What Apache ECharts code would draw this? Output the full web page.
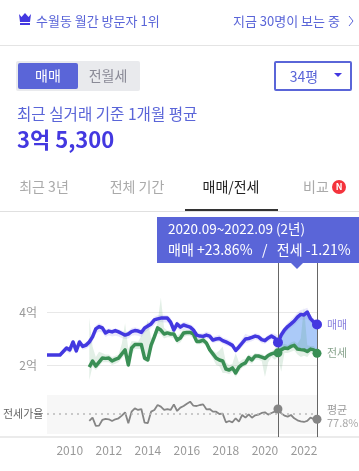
<!DOCTYPE html>
<html><head><meta charset="utf-8">
<style>html,body{margin:0;padding:0;background:#fff}#c{width:359px;height:471px}</style>
<script src="https://cdn.jsdelivr.net/npm/echarts@6/dist/echarts.min.js"></script>
</head><body><div id="c"></div>
<script>
const months = [];
for (let y = 2008, m = 11; y < 2022 || m <= 9; ) { months.push(y + '.' + String(m).padStart(2, '0')); m += 2; if (m > 12) { m -= 12; y++; } }
const N = null;
const sale = [2.38,2.38,2.38,2.38,2.38,2.51,2.64,2.57,2.87,2.53,2.87,2.70,2.75,2.87,3.06,3.36,3.45,3.40,3.21,3.28,3.25,3.30,3.25,3.19,3.13,3.17,3.26,3.30,3.28,3.23,3.40,3.47,3.55,3.70,3.74,3.77,3.77,3.77,3.62,3.32,3.55,3.43,3.51,3.47,3.43,3.32,3.13,3.09,3.08,3.13,3.09,2.94,2.98,3.00,2.92,2.87,2.81,2.74,2.55,2.68,2.83,2.98,3.00,3.04,3.09,3.06,2.96,2.92,3.02,3.09,3.02,2.85,3.13,3.32,3.45,3.55,3.66,3.81,3.91,3.89,4.00,3.75,3.62,3.53];
const saleHigh = [2.38,2.38,2.38,2.38,2.38,2.58,2.72,2.68,2.95,2.72,2.98,2.82,2.86,3.0,3.2,3.5,3.58,3.52,3.36,3.38,3.36,3.38,3.35,3.3,3.25,3.28,3.4,3.42,3.4,3.36,3.5,3.6,3.68,3.82,3.88,3.9,3.9,3.88,3.78,3.5,3.66,3.56,3.62,3.6,3.54,3.46,3.25,3.2,3.2,3.26,3.22,3.08,3.1,3.14,3.04,3.0,2.94,2.86,2.68,2.82,3.0,3.18,3.12,3.14,3.2,3.18,3.08,3.02,3.14,3.2,3.18,3.1,3.28,3.45,3.6,3.72,3.84,3.98,4.08,4.1,4.16,3.9,3.76,3.6];
const saleLow = [2.38,2.38,2.38,2.38,2.38,2.42,2.5,2.42,2.62,2.42,2.72,2.58,2.6,2.7,2.88,3.18,3.26,3.22,3.06,3.12,3.08,3.1,3.08,3.02,2.98,3.0,3.1,3.12,3.1,3.06,3.22,3.3,3.4,3.5,3.6,3.62,3.6,3.6,3.44,3.16,3.38,3.28,3.34,3.3,3.28,3.2,3.0,2.96,2.96,3.0,2.96,2.82,2.86,2.88,2.8,2.74,2.7,2.64,2.46,2.56,2.68,2.82,2.86,2.9,2.96,2.92,2.82,2.8,2.88,2.96,2.88,2.62,2.98,3.16,3.3,3.4,3.5,3.62,3.72,3.7,3.75,3.6,3.48,3.45];
const rent = [N,N,N,N,N,N,N,N,N,N,N,N,N,1.92,2.15,1.96,2.11,2.26,2.25,2.26,2.15,2.21,2.26,2.42,2.57,2.0,2.64,2.77,2.77,2.77,2.26,2.19,2.75,3.06,3.40,3.32,3.17,3.21,3.17,3.17,2.94,3.02,3.21,3.23,3.23,3.17,2.89,2.89,2.94,2.83,2.58,2.42,2.26,2.19,2.15,1.85,1.81,1.89,1.70,1.92,2.02,2.08,2.28,2.19,2.34,2.34,2.30,2.25,2.36,2.42,2.46,2.46,2.57,2.64,2.62,2.70,2.74,2.60,2.58,2.57,2.51,2.60,2.57,2.44];
const rentHigh = [N,N,N,N,N,N,N,N,N,N,N,N,N,3.77,2.7,2.3,2.5,2.45,2.4,2.4,2.3,2.35,2.4,2.8,3.58,2.6,2.9,2.9,2.88,3.1,3.3,3.7,3.0,3.2,3.6,4.55,3.4,3.3,3.3,3.35,3.1,3.2,3.35,3.3,3.3,3.25,3.0,3.0,3.05,2.95,2.7,2.55,2.45,2.55,2.7,2.1,2.0,2.05,2.45,2.1,2.2,2.25,2.4,2.35,2.45,2.42,2.42,2.35,2.45,2.52,2.6,2.9,2.75,2.8,2.75,2.85,2.9,2.8,3.0,4.19,2.75,2.72,2.72,2.55];
const rentLow = [N,N,N,N,N,N,N,N,N,N,N,N,N,1.43,1.95,1.8,1.95,2.1,2.1,2.1,2.0,2.05,2.1,2.25,2.4,1.9,2.4,2.6,2.6,2.6,2.15,2.1,2.55,2.85,3.2,3.15,3.0,3.05,3.05,3.0,2.8,2.85,3.05,3.1,3.1,3.0,2.78,2.78,2.8,2.72,2.45,2.25,2.0,1.95,1.7,1.7,1.65,1.75,1.55,1.75,1.9,1.95,2.1,2.05,2.2,2.2,2.15,1.55,2.1,2.3,2.2,2.3,1.75,2.45,2.45,2.5,2.55,2.4,2.3,2.35,2.3,2.45,2.4,2.3];
const ratio = [N,N,N,N,N,N,N,N,N,N,N,N,N,66.7,72.0,58.8,59.3,68.3,69.9,69.4,66.7,69.4,71.0,75.2,80.5,63.0,81.5,86.8,84.2,85.7,64.0,63.5,81.5,84.2,92.1,89.5,84.2,85.7,84.2,93.1,82.6,87.9,90.5,94.2,97.4,91.0,90.5,92.1,93.1,85.2,85.7,81.5,81.5,77.8,78.3,64.6,66.7,64.6,71.0,65.6,76.2,72.0,77.3,72.0,75.7,76.8,79.4,80.5,76.8,79.4,81.5,85.7,78.9,75.2,73.6,76.2,71.0,67.8,66.2,65.1,66.7,72.0,69.9,69.4];
const ratioAverage = 77.8;
const rangeStart = '2020.09', rangeEnd = '2022.09';
const priceTicks = [2, 4];

const FONT = '"Noto Sans CJK KR","Noto Sans",sans-serif';
const PURPLE = '#5a65d8', BLUE = '#4338e0', GREEN = '#3a8f55', GREY = '#858585';
const iStart = months.indexOf(rangeStart), iEnd = months.indexOf(rangeEnd);

function bandPolygon(upper, lower, fill, from, to) {
  return function (params, api) {
    const pts = [], back = [];
    for (let i = from; i <= to; i++) {
      if (upper[i] == null || lower[i] == null) continue;
      pts.push(api.coord([i, upper[i]]));
      back.unshift(api.coord([i, lower[i]]));
    }
    return { type: 'polygon', shape: { points: pts.concat(back) }, style: { fill: fill }, silent: true };
  };
}
function txt(text, x, y, size, fill, extra) {
  return { type: 'text', z: 100, style: { text, x, y, fill, font: (extra && extra.weight || 'normal') + ' ' + size + 'px ' + FONT, verticalAlign: 'middle', align: extra && extra.align || 'left' } };
}
const graphics = [
  { type: 'rect', shape: { x: 0, y: 45, width: 359, height: 1 }, style: { fill: '#e4e4e4' } },
  { type: 'polygon', shape: { points: [[19,14],[21.5,17],[25,13],[28.5,17],[31,14],[30,22],[20,22]] }, style: { fill: BLUE } },
  { type: 'rect', shape: { x: 20, y: 23, width: 10, height: 2 }, style: { fill: BLUE } },
  txt('수월동 월간 방문자 1위', 36, 21, 13, PURPLE),
  txt('지금 30명이 보는 중', 233, 21, 13, PURPLE),
  { type: 'polyline', shape: { points: [[349,16],[353,21],[349,26]] }, style: { stroke: PURPLE, fill: null, lineWidth: 1 } },
  { type: 'rect', shape: { x: 16, y: 61, width: 124, height: 30, r: 2 }, style: { fill: '#e9eaed' } },
  { type: 'rect', shape: { x: 18, y: 63, width: 60, height: 26, r: 2 }, style: { fill: PURPLE } },
  txt('매매', 48, 76, 14, '#fff', { align: 'center' }),
  txt('전월세', 108, 76, 14, '#8a8a96', { align: 'center' }),
  { type: 'rect', shape: { x: 275, y: 62, width: 76, height: 28, r: 1 }, style: { fill: '#fff', stroke: PURPLE, lineWidth: 2 } },
  txt('34평', 304, 77, 14, PURPLE, { align: 'center' }),
  { type: 'polygon', shape: { points: [[334,73],[342,73],[338,77]] }, style: { fill: BLUE } },
  txt('최근 실거래 기준 1개월 평균', 17, 114, 15.6, PURPLE),
  txt('3억 5,300', 17, 140, 22, BLUE, { weight: 'bold' }),
  txt('최근 3년', 44, 187, 14, '#aaaaaa', { align: 'center' }),
  txt('전체 기간', 137, 187, 14, '#aaaaaa', { align: 'center' }),
  txt('매매/전세', 231, 187, 14, '#222222', { align: 'center' }),
  txt('비교', 316, 187, 14, '#aaaaaa', { align: 'center' }),
  { type: 'circle', z: 99, shape: { cx: 339, cy: 187, r: 7 }, style: { fill: '#f4333c' } },
  txt('N', 339, 187, 9, '#fff', { align: 'center', weight: 'bold' }),
  { type: 'rect', shape: { x: 0, y: 211, width: 359, height: 1 }, style: { fill: '#e0e0e0' } },
  { type: 'rect', z: 100, shape: { x: 185, y: 209, width: 93, height: 2 }, style: { fill: '#333' } },
  { type: 'rect', z: 98, shape: { x: 157, y: 217, width: 202, height: 46 }, style: { fill: PURPLE } },
  { type: 'polygon', z: 98, shape: { points: [[291,263],[303,263],[297,269]] }, style: { fill: PURPLE } },
  txt('2020.09~2022.09 (2년)', 168, 229, 13.5, '#fff'),
  txt('매매 +23.86%   /   전세 -1.21%', 168, 250, 14, '#fff'),
  txt('매매', 327, 325, 11, '#8c84e0'),
  txt('전세', 327, 353, 11, '#8aa58f'),
  txt('평균', 327, 410, 11, '#999'),
  txt('77.8%', 327, 423, 11, '#aaa'),
  txt('전세가율', 3, 414, 11, '#666'),
  { type: 'rect', shape: { x: 0, y: 436, width: 359, height: 2 }, style: { fill: '#ebebeb' } }
];
const ends = (arr) => [[iStart, arr[iStart]], [iEnd, arr[iEnd]]];
const option = {
  animation: false,
  textStyle: { fontFamily: FONT },
  graphic: { elements: graphics },
  grid: [
    { left: 47, width: 270, top: 259, height: 159, show: false },
    { left: 47, width: 270, top: 395, height: 39, show: true, backgroundColor: '#f7f7f7', borderWidth: 0 },
    { left: 47, width: 270, top: 262, height: 175, show: false }
  ],
  xAxis: [
    { gridIndex: 0, type: 'category', data: months, boundaryGap: false, axisLine: { show: false }, axisTick: { show: false }, axisLabel: { show: false } },
    { gridIndex: 1, type: 'category', data: months, boundaryGap: false, axisLine: { show: false }, axisTick: { show: false },
      axisLabel: { margin: 10, color: '#999', fontSize: 12, fontFamily: FONT, interval: (i, v) => /^20(10|12|14|16|18|20|22)\.01$/.test(v), formatter: v => v.slice(0, 4) } },
    { gridIndex: 2, type: 'category', data: months, boundaryGap: false, show: false }
  ],
  yAxis: [
    { gridIndex: 0, type: 'value', min: 0, max: 6, interval: 2, axisLine: { show: false }, axisTick: { show: false },
      splitLine: { show: true, showMinLine: false, showMaxLine: false, lineStyle: { color: '#e8e8e8', width: 1 } },
      axisLabel: { margin: 10, color: '#999', fontSize: 12, fontFamily: FONT, showMinLabel: false, showMaxLabel: false, formatter: v => priceTicks.includes(v) ? v + '억' : '' } },
    { gridIndex: 1, type: 'value', min: 46, max: 108, show: false, splitLine: { show: false } },
    { gridIndex: 2, type: 'value', min: 0, max: 1, show: false, splitLine: { show: false } }
  ],
  series: [
    { type: 'custom', xAxisIndex: 0, yAxisIndex: 0, data: [0], z: 1, silent: true, renderItem: bandPolygon(sale, rent, '#abcaf8', iStart, iEnd) },
    { type: 'custom', xAxisIndex: 0, yAxisIndex: 0, data: [0], z: 1, silent: true, renderItem: bandPolygon(saleHigh, saleLow, 'rgba(150,140,240,0.2)', 0, iEnd) },
    { type: 'custom', xAxisIndex: 0, yAxisIndex: 0, data: [0], z: 1, silent: true, renderItem: bandPolygon(rentHigh, rentLow, 'rgba(60,150,90,0.15)', 0, iEnd) },
    { name: '전세', type: 'line', xAxisIndex: 0, yAxisIndex: 0, data: rent, z: 3, showSymbol: false, lineStyle: { color: GREEN, width: 3.5, join: 'round' } },
    { name: '매매', type: 'line', xAxisIndex: 0, yAxisIndex: 0, data: sale, z: 4, showSymbol: false, lineStyle: { color: BLUE, width: 3.5, join: 'round' } },
    { type: 'scatter', xAxisIndex: 0, yAxisIndex: 0, data: ends(rent), z: 5, symbolSize: 9, itemStyle: { color: GREEN, opacity: 1 } },
    { type: 'scatter', xAxisIndex: 0, yAxisIndex: 0, data: ends(sale), z: 6, symbolSize: 10, itemStyle: { color: BLUE, opacity: 1 } },
    { name: '전세가율', type: 'line', xAxisIndex: 1, yAxisIndex: 1, data: ratio, z: 3, showSymbol: false, lineStyle: { color: GREY, width: 1.8 },
      markLine: { silent: true, symbol: 'none', label: { show: false }, lineStyle: { color: '#bbb', type: [2, 4], width: 1.5 }, data: [{ yAxis: ratioAverage }] } },
    { type: 'scatter', xAxisIndex: 1, yAxisIndex: 1, data: ends(ratio), z: 6, symbolSize: 9, itemStyle: { color: GREY, opacity: 1 } },
    { type: 'line', xAxisIndex: 2, yAxisIndex: 2, data: [], z: 2,
      markLine: { silent: true, symbol: 'none', label: { show: false }, lineStyle: { color: '#666', type: 'solid', width: 1 }, data: [{ xAxis: rangeStart }, { xAxis: rangeEnd }] } }
  ]
};
echarts.init(document.getElementById('c'), null, { renderer: 'canvas' }).setOption(option);
</script></body></html>
